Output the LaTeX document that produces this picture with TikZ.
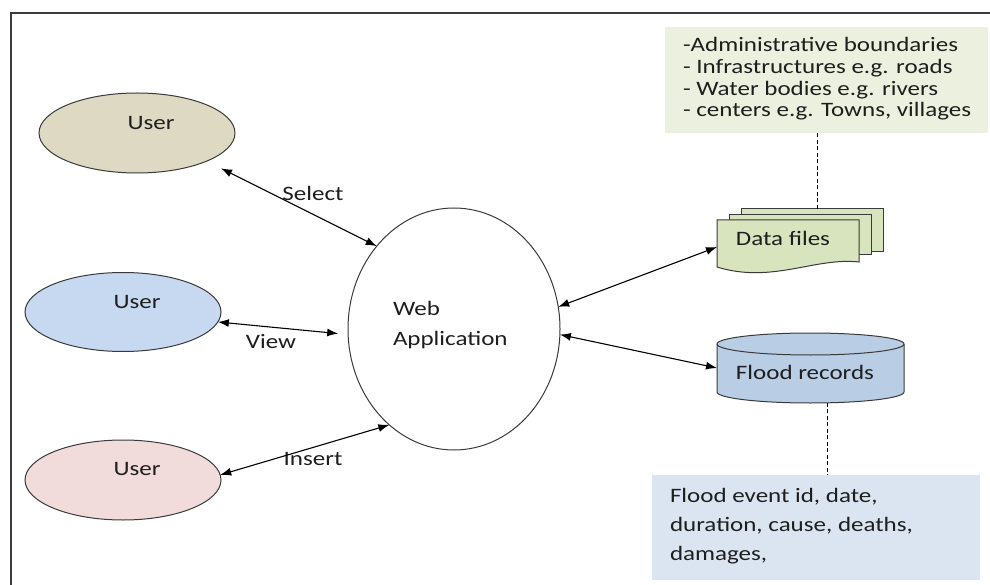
\documentclass[tikz,border=0pt]{standalone}
\usepackage{fontspec}
\setmainfont{Carlito}[FakeStretch=1.22]
\usetikzlibrary{shapes.geometric,arrows.meta}
\definecolor{utan}{HTML}{DDD9C3}
\definecolor{ublue}{HTML}{C6D9F1}
\definecolor{upink}{HTML}{F2DCDB}
\definecolor{gfill}{HTML}{EBF1DE}
\definecolor{docfill}{HTML}{D7E4BD}
\definecolor{cylfill}{HTML}{B9CDE5}
\definecolor{bfill}{HTML}{DBE5F1}
\definecolor{edge}{HTML}{3A3A3A}
\definecolor{txt}{HTML}{1E1E1E}
\begin{document}
\begin{tikzpicture}[x=1pt,y=-1pt,
  every node/.style={inner sep=0pt, outer sep=0pt, text=txt},
  lbl/.style={font=\fontsize{20.5pt}{24pt}\selectfont},
  user/.style={ellipse, draw=edge, line width=1pt, minimum width=196pt, minimum height=80pt},
  arr/.style={{Latex[length=11pt,width=8pt]}-{Latex[length=11pt,width=8pt]}, line width=1.1pt, draw=black},
  dline/.style={draw=black, line width=1pt, dash pattern=on 4pt off 2.5pt},
  doc/.style={rectangle, draw=edge, line width=1pt, fill=docfill},
  frameline/.style={draw=edge, line width=1.3pt}]
\useasboundingbox (0,0) rectangle (990,585);
\fill[white] (0,0) rectangle (990,585);
\draw[frameline] (11,586) -- (11,13) -- (991,13);

% users
\node[user, fill=utan] (u1) at (137,133) {};
\node[lbl] (u1t) at (151,123) {User};
\node[user, fill=ublue, minimum height=79pt] (u2) at (123,312) {};
\node[lbl] (u2t) at (137,302) {User};
\node[user, fill=upink] (u3) at (123,480) {};
\node[lbl] (u3t) at (137,469) {User};

% web application
\node[ellipse, draw=edge, line width=1pt, fill=white, minimum width=212pt, minimum height=242pt] (web) at (454,329) {};
\node[anchor=west, align=left, font=\fontsize{20.5pt}{30pt}\selectfont] (webt) at (393,325) {Web\\Application};

% edge labels
\node[lbl] (sel) at (313,193) {Select};
\node[lbl] (vw) at (271,342) {View};
\node[lbl] (ins) at (313,459) {Insert};

% green info box
\node[rectangle, fill=gfill, minimum width=323pt, minimum height=106pt] (gbox) at (826.5,80) {};
\node[anchor=west, align=left, font=\fontsize{20.5pt}{21.7pt}\selectfont] (gt) at (683,79)
  {-Administrative boundaries\\- Infrastructures e.g. roads\\- Water bodies e.g. rivers\\- centers e.g. Towns, villages};

% data files
\node[doc, minimum width=142pt, minimum height=43pt] (dfb) at (812,230.5) {};
\node[doc, minimum width=142pt, minimum height=40pt] (dfm) at (800,235) {};
\node[minimum width=142pt, minimum height=54pt] (df) at (788,247) {};
\draw[draw=edge, line width=1pt, fill=docfill] (717,220) -- (859,220) -- (859,262)
  .. controls (815,257) and (772,284) .. (717,267) -- cycle;
\node[lbl] (dft) at (783,238) {Data files};

% flood records cylinder
\node[minimum width=187pt, minimum height=48pt] (fr) at (810.5,368) {};
\filldraw[draw=edge, line width=1pt, fill=cylfill] (fr.north west) -- (fr.south west)
  arc[start angle=180, end angle=360, x radius=93.5pt, y radius=11pt] -- (fr.north east)
  arc[start angle=0, end angle=180, x radius=93.5pt, y radius=11pt] -- cycle;
\draw[draw=edge, line width=1pt] (fr.north west) arc[start angle=180, end angle=360, x radius=93.5pt, y radius=11pt];
\node[lbl] (frt) at (805,372) {Flood records};

% blue info box
\node[rectangle, fill=bfill, minimum width=328pt, minimum height=105pt] (bbox) at (816,527.5) {};
\node[anchor=west, align=left, font=\fontsize{20.5pt}{29pt}\selectfont] (bt) at (670,526)
  {Flood event id, date,\\duration, cause, deaths,\\damages,};

% connectors
\draw[arr, shorten <=16pt] (u1.-22) -- (web.133);
\draw[arr, shorten >=10pt] (u2.-6) -- (web.183);
\draw[arr] (u3.3) -- (web.236);
\draw[arr] (web.12) -- (df.west);
\draw[arr] (web.-3) -- (fr.west);
\draw[dline] ([xshift=5pt]dfb.north) -- ([xshift=5pt]dfb.north |- gbox.south);
\draw[dline] ([xshift=16.5pt,yshift=-10.8pt]fr.south) -- ([xshift=16.5pt]fr.south |- bbox.north);
\end{tikzpicture}
\end{document}
